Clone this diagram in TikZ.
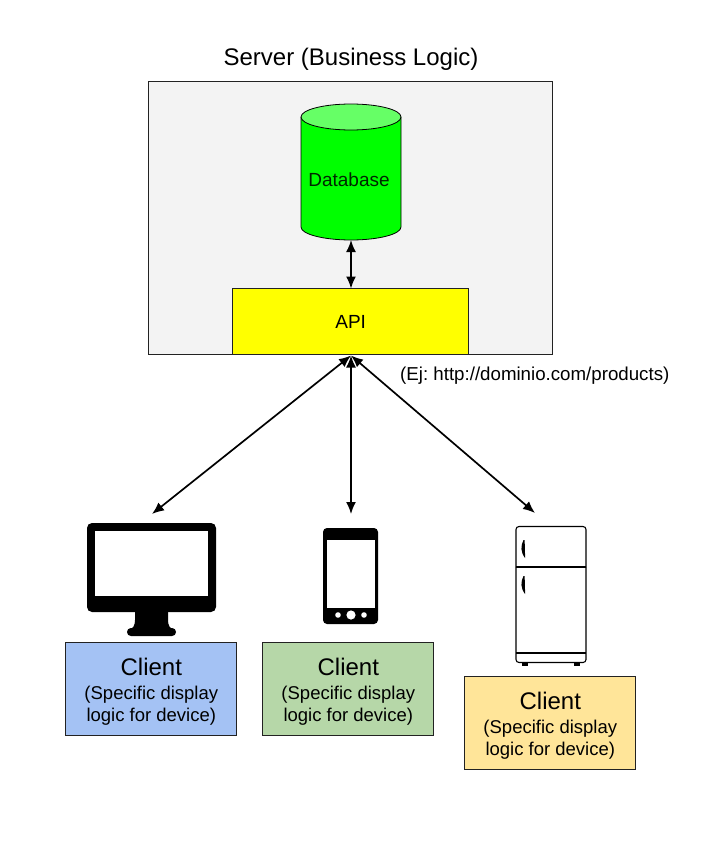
\documentclass[tikz,border=0pt]{standalone}
\usepackage{fontspec}
\setmainfont{Liberation Sans}
\usetikzlibrary{arrows.meta}
\definecolor{serverfill}{HTML}{F3F3F3}
\definecolor{dbgreen}{HTML}{00FF00}
\definecolor{dbtop}{HTML}{66FF66}
\definecolor{apiyellow}{HTML}{FFFF00}
\definecolor{cblue}{HTML}{A4C2F4}
\definecolor{cgreen}{HTML}{B6D7A8}
\definecolor{cyellow}{HTML}{FFE599}
\definecolor{edge}{HTML}{222222}
\tikzset{
  client/.style={draw=edge,line width=0.8pt,minimum width=171pt,minimum height=93pt,inner sep=0pt,align=center,font=\fontsize{18.5}{22}\selectfont},
  link/.style={line width=1.7pt,black,{Latex[length=12pt,width=10pt]}-{Latex[length=12pt,width=10pt]}},
  label/.style={inner sep=0pt,text=black}
}
\newcommand{\clienttext}{\rule{0pt}{22pt}{\fontsize{24}{26}\selectfont Client}\\[2pt](Specific display\\logic for device)}
\frenchspacing
\begin{document}
\begin{tikzpicture}[x=1pt,y=-1pt]
\useasboundingbox (0,0) rectangle (701,848);
\fill[white] (0,0) rectangle (701,848);
\node[label,font=\fontsize{24}{28}\selectfont] (title) at (351,59) {Server (Business Logic)};
\node[draw=edge,line width=0.8pt,fill=serverfill,minimum width=404pt,minimum height=273pt,inner sep=0pt] (server) at (350.7,218.2) {};
\node[draw=edge,line width=0.8pt,fill=apiyellow,minimum width=236pt,minimum height=66pt,inner sep=0pt,font=\fontsize{19}{21}\selectfont] (api) at (350.7,321.7) {API};
% database cylinder
\draw[line width=0.8pt,black,fill=dbgreen] (301,117) -- (301,227) arc[start angle=180,end angle=0,x radius=50,y radius=13] -- (401,117);
\draw[line width=0.8pt,black,fill=dbtop] (351,117) ellipse[x radius=50,y radius=13];
\node[label,font=\fontsize{19}{21}\selectfont,text=black!85!green] (db) at (349,179.5) {Database};
\coordinate (dbbottom) at (351,240);
\coordinate (apitop) at (351,288.5);
\coordinate (apibottom) at (351,355.5);
\coordinate (monitor) at (152,514);
\coordinate (phone) at (351,514);
\coordinate (fridge) at (535,513);
\draw[link] (dbbottom) -- (apitop);
\draw[link] (apibottom) -- (monitor);
\draw[link] (apibottom) -- (phone);
\draw[link] (apibottom) -- (fridge);
\node[label,anchor=west,font=\fontsize{18.7}{21}\selectfont] (url) at (400,376) {(Ej: http://dominio.com/products)};
% monitor icon
\fill[black,rounded corners=5pt] (87,523) rectangle (216,612);
\fill[white] (95,531) rectangle (208,596);
\fill[black] (135,610) -- (168,610) -- (168,620) .. controls (168,626) and (170,628) .. (174,630) -- (129,630) .. controls (133,628) and (135,626) .. (135,620) -- cycle;
\fill[black,rounded corners=3.9pt] (127,628) rectangle (176,636);
% phone icon
\fill[black,rounded corners=4pt] (323,528) rectangle (378,624);
\fill[white] (327,540) rectangle (375,608);
\fill[white] (338,615) circle[radius=2.8] (351,615) circle[radius=4.6] (364,615) circle[radius=2.8];
% fridge icon
\draw[black,line width=1.1pt,rounded corners=3pt] (516,567) -- (516,526.5) -- (586,526.5) -- (586,567);
\draw[black,line width=1.1pt,rounded corners=3pt] (516,567) -- (516,662.5) -- (586,662.5) -- (586,567);
\draw[black,line width=1.3pt] (516,567) -- (586,567);
\draw[black,line width=1.1pt] (516,653) -- (586,653);
\fill[black] (523.5,540) .. controls (520.5,546) and (520.5,552) .. (525,558) .. controls (525,552) and (525,546) .. (524.5,540) -- cycle;
\fill[black] (523.5,576) .. controls (520.5,582) and (520.5,588) .. (525,594) .. controls (525,588) and (525,582) .. (524.5,576) -- cycle;
\fill[black] (522,663) rectangle (528,665.5);
\fill[black] (574,663) rectangle (580,665.5);
% clients
\node[client,fill=cblue] (c1) at (151.3,689.3) {\clienttext};
\node[client,fill=cgreen] (c2) at (348.3,689.3) {\clienttext};
\node[client,fill=cyellow] (c3) at (550.3,723) {\clienttext};
\end{tikzpicture}
\end{document}
